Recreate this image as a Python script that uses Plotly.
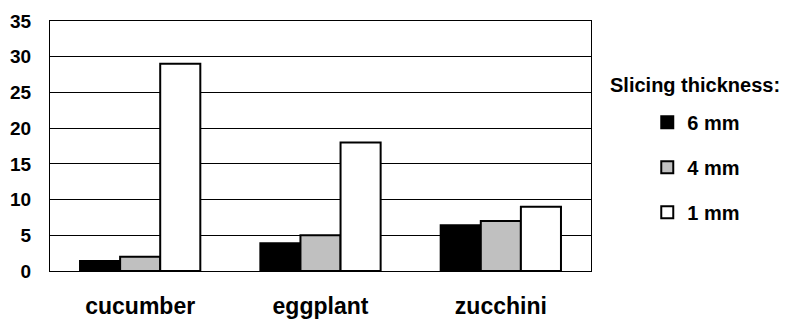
import plotly.graph_objects as go

categories = ["cucumber", "eggplant", "zucchini"]
series_names = ["6 mm", "4 mm", "1 mm"]
vals_6mm = [1.4, 3.9, 6.4]
vals_4mm = [2.0, 5.0, 7.0]
vals_1mm = [29.0, 18.0, 9.0]
y_ticks = [0, 5, 10, 15, 20, 25, 30, 35]

colors = ["#000000", "#C0C0C0", "#FFFFFF"]
FONT = "Liberation Sans, Arial, sans-serif"

fig = go.Figure()
for i, (name, vals) in enumerate(zip(series_names, [vals_6mm, vals_4mm, vals_1mm])):
    fig.add_trace(go.Bar(
        x=categories, y=vals, name=name, legendgroup=name,
        marker=dict(color=colors[i], line=dict(color="#000000", width=2)),
    ))

# page body has an 8px margin, so margins are offset accordingly
fig.update_layout(
    width=791, height=320,
    margin=dict(l=42, r=208, t=13, b=57, autoexpand=False),
    paper_bgcolor="white", plot_bgcolor="white",
    barmode="group", bargap=0.333, bargroupgap=0,
    font=dict(family=FONT, color="#000000", weight="bold"),
    showlegend=True,
    legend=dict(
        x=1.104, xanchor="left", y=0.415, yanchor="middle",
        traceorder="grouped", tracegroupgap=16,
        font=dict(size=20, family=FONT, color="#000000", weight="bold"),
        bgcolor="rgba(0,0,0,0)",
    ),
    annotations=[dict(
        text="Slicing thickness:", xref="paper", yref="paper",
        x=1.192, y=0.743, xanchor="center", yanchor="middle", showarrow=False,
        font=dict(size=20, family=FONT, color="#000000", weight="bold"),
    )],
)
fig.update_xaxes(
    showline=True, linecolor="#000000", linewidth=1, mirror=True,
    ticks="outside", ticklen=14, tickcolor="rgba(0,0,0,0)",
    tickfont=dict(size=23, family=FONT, color="#000000", weight="bold"),
    showgrid=False,
)
fig.update_yaxes(
    range=[0, 35], tickvals=y_ticks,
    showline=True, linecolor="#000000", linewidth=1, mirror=True,
    showgrid=True, gridcolor="#000000", gridwidth=1, zeroline=False,
    ticks="outside", ticklen=14, tickcolor="rgba(0,0,0,0)",
    tickfont=dict(size=19, family=FONT, color="#000000", weight="bold"),
)
fig.write_html("out.html")
